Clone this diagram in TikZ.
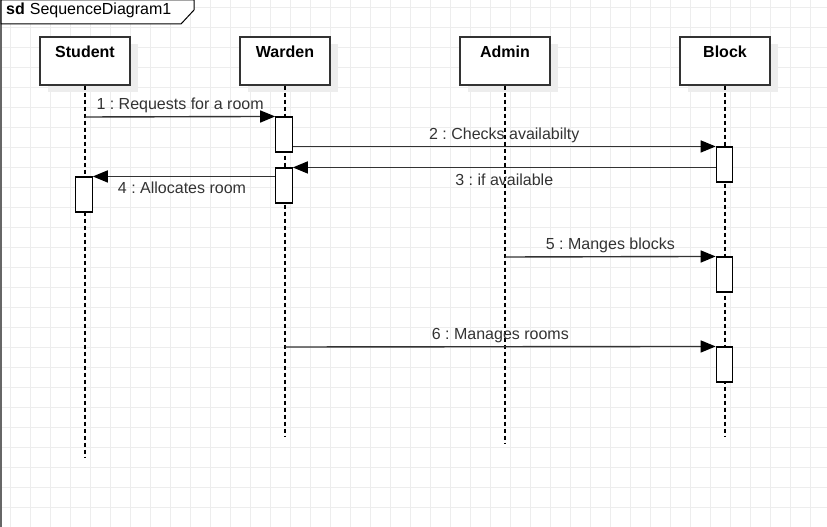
\documentclass[tikz,border=0pt]{standalone}
\usepackage{fontspec}
\setmainfont{Liberation Sans}
\frenchspacing
\usetikzlibrary{arrows.meta}
\definecolor{gridc}{HTML}{EDEDED}
\definecolor{linec}{HTML}{333333}
\definecolor{txtc}{HTML}{333333}
\definecolor{shadc}{HTML}{EDEDED}
\definecolor{framec}{HTML}{666666}
\tikzset{
  head/.style={draw=linec, line width=1.3pt, fill=white, minimum width=90pt, minimum height=48pt, inner sep=0pt},
  headtxt/.style={font=\fontsize{16}{18}\selectfont\bfseries, text=black, inner sep=0pt, anchor=center},
  act/.style={draw=black, line width=1.1pt, fill=white, minimum width=16.5pt, minimum height=35pt, inner sep=0pt},
  lifeline/.style={draw=black, line width=1.2pt, dash pattern=on 4pt off 3pt},
  msg/.style={draw=linec, line width=1.4pt, -{Triangle[length=15pt 0 0, width=12pt 0 0, color=black, fill=black]}},
  lbl/.style={font=\fontsize{16}{18}\selectfont, text=txtc, inner sep=0pt, anchor=center},
}
\begin{document}
\begin{tikzpicture}[x=1pt,y=-1pt]
\useasboundingbox (0,0) rectangle (827,527);
\fill[white] (0,0) rectangle (827,527);
% grid
\foreach \gx in {10.5,30.5,...,830}{\draw[gridc, line width=0.9pt] (\gx,0) -- (\gx,527);}
\foreach \gy in {7.3,27.3,...,530}{\draw[gridc, line width=0.9pt] (0,\gy) -- (827,\gy);}
% frame
\draw[framec, line width=2pt] (1,0) -- (1,527);
\filldraw[fill=white, draw=black, line width=1pt] (1,0) -- (194,0) -- (194,10) -- (181,24) -- (1,24) -- cycle;
\node[lbl, text=black, anchor=west] (sdlbl) at (6,10) {\textbf{sd}\hspace{5pt}SequenceDiagram1};
% shadows
\foreach \hx in {85,285,505,725}{\fill[shadc] (\hx-45+8,37+7) rectangle (\hx+45+8,85+7);}
% heads
\node[head] (student) at (85,61) {};
\node[head] (warden) at (285,61) {};
\node[head] (admin) at (505,61) {};
\node[head] (block) at (725,61) {};
\node[headtxt] (studentT) at (85,52) {Student};
\node[headtxt] (wardenT) at (285,52) {Warden};
\node[headtxt] (adminT) at (505,52) {Admin};
\node[headtxt] (blockT) at (725,52) {Block};
% lifeline ends
\coordinate (sEnd) at (85,457);
\coordinate (wEnd) at (285,436);
\coordinate (aEnd) at (505,443);
\coordinate (bEnd) at (725,437);
\draw[lifeline] (student.south) -- (sEnd);
\draw[lifeline] (warden.south) -- (wEnd);
\draw[lifeline] (admin.south) -- (aEnd);
\draw[lifeline] (block.south) -- (bEnd);
% activations
\node[act] (w1) at (284,134.5) {};
\node[act] (w2) at (284,185.5) {};
\node[act] (s1) at (84,194.5) {};
\node[act] (b1) at (724.5,164.5) {};
\node[act] (b2) at (724.5,274.5) {};
\node[act] (b3) at (724.5,364.5) {};
% messages
\coordinate (m1s) at (85,117);
\coordinate (m5s) at (505,257);
\coordinate (m6s) at (285,347);
\draw[msg] (m1s) -- (w1.north west) node[lbl, midway, yshift=11.5pt] (l1) {1 : Requests for a room};
\draw[msg] (w1.east |- b1.north) -- (b1.north west) node[lbl, midway, yshift=11.5pt] (l2) {2 : Checks availabilty};
\draw[msg] (b1.west |- w2.north) -- (w2.north east) node[lbl, midway, yshift=-12pt] (l3) {3 : if available};
\draw[msg] (w2.west |- s1.north) -- (s1.north east) node[lbl, midway, yshift=-11pt, xshift=-2pt] (l4) {4 : Allocates room};
\draw[msg] (m5s) -- (b2.north west) node[lbl, midway, yshift=11.5pt] (l5) {5 : Manges blocks};
\draw[msg] (m6s) -- (b3.north west) node[lbl, midway, yshift=11.5pt] (l6) {6 : Manages rooms};
\end{tikzpicture}
\end{document}
